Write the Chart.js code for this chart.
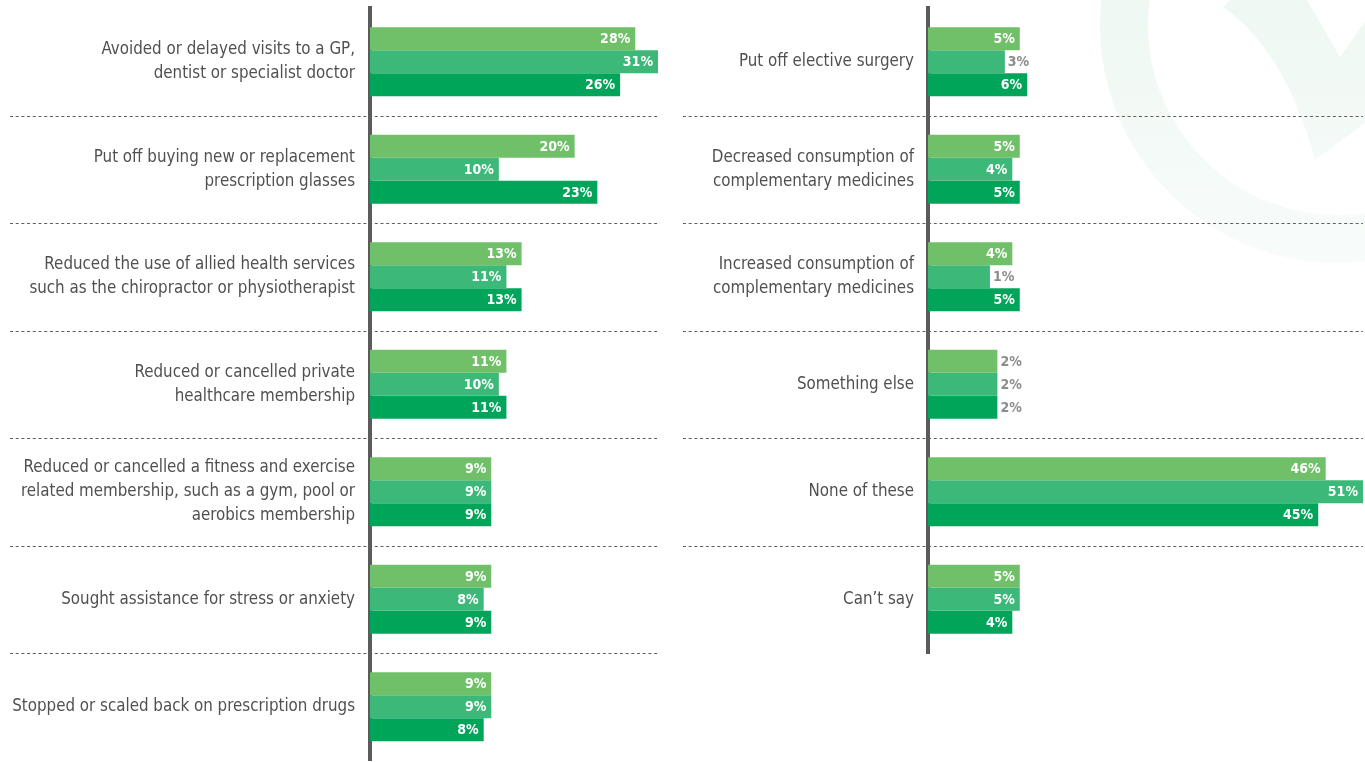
<!DOCTYPE html>
<html>
<head>
<meta charset="utf-8">
<title>Health spending cutbacks</title>
<script src="https://cdn.jsdelivr.net/npm/chart.js@4.4.1/dist/chart.umd.min.js"></script>
<style>
  html, body { margin: 0; padding: 0; background: #fff; }
  body { width: 1365px; height: 762px; position: relative; overflow: hidden; }
  #mark { position: absolute; left: 0; top: 0; }
  .box { position: absolute; top: 0; }
  #leftBox { left: 0; width: 660px; height: 762px; }
  #rightBox { left: 680px; width: 685px; height: 655px; }
</style>
</head>
<body>
<!-- faint logo in the background -->
<svg id="mark" width="1365" height="762">
  <defs>
    <linearGradient id="fade" x1="0" y1="0" x2="0" y2="270" gradientUnits="userSpaceOnUse">
      <stop offset="0" stop-color="#149a55" stop-opacity="0.07"/>
      <stop offset="1" stop-color="#149a55" stop-opacity="0.03"/>
    </linearGradient>
  </defs>
  <circle cx="1338" cy="25" r="214" fill="none" stroke="url(#fade)" stroke-width="48"/>
  <path d="M1230,0 L1307,0 L1340,57 L1380,0 L1400,0 L1400,110 L1365,123 L1315,160 Q1285,50 1223,7 Z" fill="url(#fade)"/>
</svg>
<div class="box" id="leftBox"><canvas id="leftChart"></canvas></div>
<div class="box" id="rightBox"><canvas id="rightChart"></canvas></div>
<script>
const leftCategories = [
    ["Avoided or delayed visits to a GP,", "dentist or specialist doctor"],
    ["Put off buying new or replacement", "prescription glasses"],
    ["Reduced the use of allied health services", "such as the chiropractor or physiotherapist"],
    ["Reduced or cancelled private", "healthcare membership"],
    ["Reduced or cancelled a fitness and exercise", "related membership, such as a gym, pool or", "aerobics membership"],
    "Sought assistance for stress or anxiety",
    "Stopped or scaled back on prescription drugs"
];
const leftWave1 = [28, 20, 13, 11, 9, 9, 9];
const leftWave2 = [31, 10, 11, 10, 9, 8, 9];
const leftWave3 = [26, 23, 13, 11, 9, 9, 8];

const rightCategories = [
    "Put off elective surgery",
    ["Decreased consumption of", "complementary medicines"],
    ["Increased consumption of", "complementary medicines"],
    "Something else",
    "None of these",
    "Can\u2019t say"
];
const rightWave1 = [5, 5, 4, 2, 46, 5];
const rightWave2 = [3, 4, 1, 2, 51, 5];
const rightWave3 = [6, 5, 5, 2, 45, 4];

const waveColors = ['#6fc069', '#3cb878', '#00a55a'];

const labelFont = "'DejaVu Sans Condensed', 'Liberation Sans Narrow', 'Liberation Sans', sans-serif";

// dashed separators between the categories, running under the labels too
const rowDivider = {
    id: 'rowDivider',
    beforeDatasetsDraw(chart, args, opts) {
        const y = chart.scales.y;
        const ctx = chart.ctx;
        ctx.save();
        ctx.strokeStyle = '#5e5e5e';
        ctx.lineWidth = 1;
        ctx.setLineDash([3, 2.7]);
        for (let i = 1; i < y.ticks.length; i++) {
            const py = Math.round((y.getPixelForValue(i - 1) + y.getPixelForValue(i)) / 2) + 0.5;
            ctx.beginPath();
            ctx.moveTo(opts.from, py);
            ctx.lineTo(chart.chartArea.right, py);
            ctx.stroke();
        }
        ctx.restore();
    }
};

// percent labels at the end of each bar; short bars get theirs outside in grey
const barValues = {
    id: 'barValues',
    afterDatasetsDraw(chart) {
        const ctx = chart.ctx;
        ctx.save();
        ctx.font = "bold 14px " + labelFont;
        ctx.textBaseline = 'middle';
        chart.data.datasets.forEach((ds, di) => {
            chart.getDatasetMeta(di).data.forEach((bar, i) => {
                const v = ds.data[i];
                const text = v + '%';
                if (v <= 3) {
                    ctx.fillStyle = '#8c8c8c';
                    ctx.textAlign = 'left';
                    ctx.fillText(text, bar.x + 3, bar.y + 1);
                } else {
                    ctx.fillStyle = '#ffffff';
                    ctx.textAlign = 'right';
                    ctx.fillText(text, bar.x - 5, bar.y + 1);
                }
            });
        });
        ctx.restore();
    }
};

function makeChart(canvasId, categories, series, xMin, xMax, axisWidth, labelPad, dashFrom, bottomPad) {
    return new Chart(document.getElementById(canvasId), {
        type: 'bar',
        data: {
            labels: categories,
            datasets: series.map((values, k) => ({
                data: values,
                backgroundColor: waveColors[k],
                base: xMin,
                barPercentage: 1,
                categoryPercentage: 0.642
            }))
        },
        options: {
            indexAxis: 'y',
            responsive: true,
            maintainAspectRatio: false,
            animation: false,
            layout: { padding: { top: 8, bottom: bottomPad, right: 2 } },
            plugins: {
                legend: { display: false },
                tooltip: { enabled: false },
                rowDivider: { from: dashFrom }
            },
            scales: {
                x: { display: false, min: xMin, max: xMax },
                y: {
                    z: 1,
                    grid: { display: false, drawTicks: false },
                    border: { display: true, color: '#5b5b5b', width: 4 },
                    ticks: {
                        color: '#505050',
                        padding: labelPad,
                        font: { family: labelFont, size: 16.8, lineHeight: 1.43 }
                    },
                    afterFit(scale) {
                        // fixed label column, no extra room above or below the rows
                        scale.width = axisWidth;
                        scale.paddingTop = 0;
                        scale.paddingBottom = 0;
                    }
                }
            }
        },
        plugins: [rowDivider, barValues]
    });
}

makeChart('leftChart', leftCategories, [leftWave1, leftWave2, leftWave3], -7, 31, 370, 15, 10, 1.5);
makeChart('rightChart', rightCategories, [rightWave1, rightWave2, rightWave3], -7.3, 51, 248, 14, 3, 2);
</script>
</body>
</html>
